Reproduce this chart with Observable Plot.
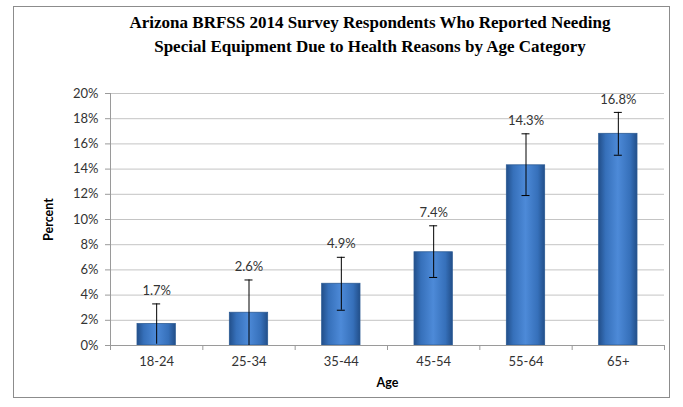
<!DOCTYPE html>
<html>
<head>
<meta charset="utf-8">
<script src="https://cdn.jsdelivr.net/npm/d3@7"></script>
<script src="https://cdn.jsdelivr.net/npm/@observablehq/plot@0.6"></script>
<style>
  html, body { margin: 0; padding: 0; background: #fff; }
  #wrap { position: relative; width: 683px; height: 407px; overflow: hidden; }
  #frame { position: absolute; left: 13px; top: 6px; width: 657px; height: 392px; border: 1px solid #8c8c8c; box-sizing: border-box; pointer-events: none; }
  #title { position: absolute; left: 70px; width: 600px; top: 11px; text-align: center;
           font-family: "Liberation Serif", "Times New Roman", serif; font-weight: bold; font-size: 17px; line-height: 24px; color: #000; }
  #chart { position: absolute; left: 0; top: 0; }
  svg { font-family: Lato, "Open Sans", sans-serif; }
  svg [aria-label="y-axis label"] text, svg [aria-label="x-axis label"] text { font-weight: bold; font-size: 12.5px; fill: #000; }
</style>
</head>
<body>
<div id="wrap">
  <div id="chart"></div>
  <div id="frame"></div>
  <div id="title">Arizona BRFSS 2014 Survey Respondents Who Reported Needing<br>Special Equipment Due to Health Reasons by Age Category</div>
</div>
<script>
const categories = ["18-24", "25-34", "35-44", "45-54", "55-64", "65+"];
const percent    = [1.7, 2.6, 4.9, 7.4, 14.3, 16.8];
const lowerCI    = [0.1, 0.0, 2.8, 5.4, 11.9, 15.1];
const upperCI    = [3.3, 5.2, 7.0, 9.5, 16.8, 18.5];
const yTicks     = [0, 2, 4, 6, 8, 10, 12, 14, 16, 18, 20];

const data = categories.map((c, i) => ({i, c, v: percent[i], lo: lowerCI[i], hi: upperCI[i]}));

const chart = Plot.plot({
  width: 683,
  height: 407,
  marginLeft: 110,
  marginRight: 19,
  marginTop: 93,
  marginBottom: 62,
  style: {fontSize: "13px", color: "#333"},
  x: {domain: [0, categories.length], axis: null},
  y: {domain: [0, 20], axis: null},
  marks: [
    Plot.gridY(yTicks, {stroke: "#c4c4c4", strokeOpacity: 1, strokeWidth: 1}),
    Plot.axisY({ticks: yTicks, tickFormat: d => d + "%", tickSize: 5, tickPadding: 7,
                stroke: "#9a9a9a", label: "Percent", labelAnchor: "center", labelArrow: "none", labelOffset: 66, fontSize: 13, color: "#333"}),
    Plot.ruleX([0], {stroke: "#9a9a9a"}),
    Plot.rectY(data, {x1: d => d.i, x2: d => d.i + 1, y: "v", insetLeft: 27, insetRight: 27,
                      fill: "url(#barGrad)", stroke: "#2b5a94", strokeWidth: 0.8}),
    Plot.ruleY([0], {stroke: "#9a9a9a"}),
    Plot.axisX({ticks: d3.range(categories.length + 1), tickFormat: () => "", tickSize: 5, stroke: "#9a9a9a", label: null}),
    Plot.axisX({ticks: categories.map((_, i) => i + 0.5), tickFormat: d => categories[Math.floor(d)], tickSize: 0, tickPadding: 11,
                label: "Age", labelAnchor: "center", labelArrow: "none", labelOffset: 41, fontSize: 13}),
    Plot.ruleX(data, {x: d => d.i + 0.5, y1: "lo", y2: "hi", stroke: "#000", strokeWidth: 1}),
    Plot.ruleY(data, {x1: d => d.i + 0.5, x2: d => d.i + 0.5, y: "hi", insetLeft: -4, insetRight: -4, stroke: "#000", strokeWidth: 1}),
    Plot.ruleY(data.filter(d => d.lo > 0.5), {x1: d => d.i + 0.5, x2: d => d.i + 0.5, y: "lo", insetLeft: -4, insetRight: -4, stroke: "#000", strokeWidth: 1}),
    Plot.text(data, {x: d => d.i + 0.5, y: "hi", text: d => d.v.toFixed(1) + "%", dy: -13, fontSize: 13, fill: "#333"})
  ]
});

// bar gradient
const svg = d3.select(chart);
const defs = svg.insert("defs", ":first-child");
const g = defs.append("linearGradient").attr("id", "barGrad").attr("x1", "0").attr("x2", "1").attr("y1", "0").attr("y2", "0");
[["0%", "#224f8a"], ["18%", "#3670ba"], ["50%", "#4d8ad8"], ["82%", "#3670ba"], ["100%", "#224f8a"]]
  .forEach(([o, c]) => g.append("stop").attr("offset", o).attr("stop-color", c));

document.getElementById("chart").appendChild(chart);
</script>
</body>
</html>
